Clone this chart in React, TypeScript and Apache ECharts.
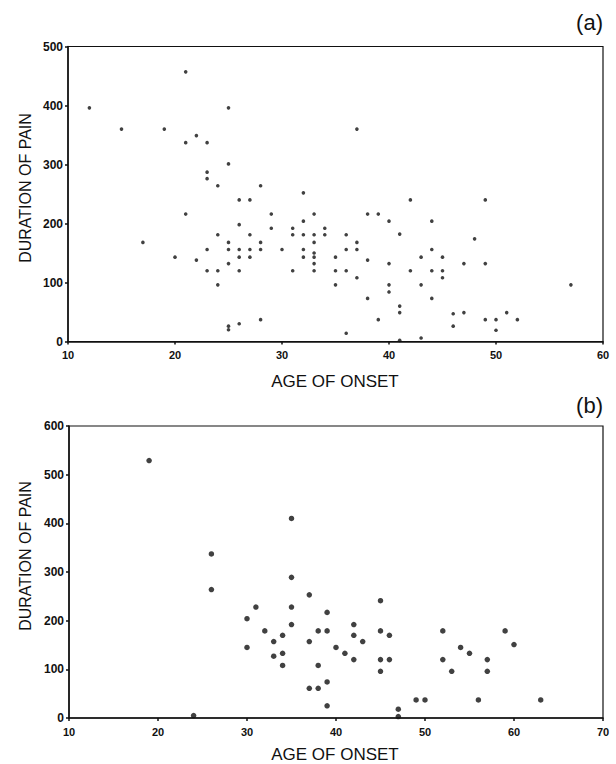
import React, { useEffect, useRef } from "react";
import * as echarts from "echarts";

// Panel (a): age of onset vs duration of pain
const agesA = [
  12, 21, 25, 15, 19, 22, 21, 23, 25, 23, 23, 24, 26, 27, 21, 26, 24, 27, 17, 25,
  23, 25, 26, 27, 20, 26, 27, 22, 25, 23, 24, 26, 24, 26, 25, 25,
  28, 29, 29, 28, 28, 30, 28, 31, 31, 31, 32, 32, 32, 32, 32, 33, 33, 33, 33, 33,
  33, 33, 34, 34, 35, 35, 35, 36, 36, 36, 36, 37, 37, 37, 37, 38, 38, 38, 39, 39,
  40, 40, 40, 40, 41, 41, 41, 41, 42, 42, 43, 43, 43,
  44, 44, 44, 44, 45, 45, 45, 46, 46, 47, 47, 48, 49, 49, 49, 50, 50, 51, 52, 57,
];
const durationsA = [
  396, 457, 396, 360, 360, 349, 337, 337, 301, 287, 276, 264, 240, 240, 216, 198, 181, 181, 168, 168,
  156, 156, 156, 156, 143, 143, 143, 138, 132, 120, 120, 120, 96, 30, 26, 20,
  264, 216, 192, 168, 156, 156, 37, 192, 181, 120, 252, 204, 181, 156, 143, 216, 181, 168, 150, 143,
  132, 120, 192, 181, 143, 120, 96, 181, 156, 120, 14, 360, 168, 156, 108, 216, 138, 73, 216, 37,
  204, 132, 96, 84, 182, 60, 49, 2, 240, 120, 143, 96, 6,
  204, 156, 120, 73, 143, 120, 108, 47, 26, 132, 49, 174, 240, 132, 37, 37, 19, 49, 37, 96,
];

// Panel (b)
const agesB = [
  19, 26, 26, 24, 30, 30, 31, 32, 33, 33, 34, 34, 34, 35, 35, 35, 35, 37, 37, 37,
  38, 38, 38, 39, 39, 39, 39, 40, 41, 42, 42, 42, 43, 45, 45, 45, 45, 46, 46, 47,
  47, 49, 50, 52, 52, 53, 54, 55, 56, 57, 57, 59, 60, 63,
];
const durationsB = [
  529, 337, 264, 5, 204, 145, 228, 179, 157, 127, 170, 133, 108, 410, 289, 228, 192, 253, 157, 61,
  179, 108, 61, 217, 179, 74, 25, 145, 133, 192, 170, 120, 157, 241, 179, 120, 96, 170, 120, 18,
  3, 37, 37, 179, 120, 96, 145, 133, 37, 120, 96, 179, 151, 37,
];

const xTicksA = [10, 20, 30, 40, 50, 60];
const yTicksA = [0, 100, 200, 300, 400, 500];
const xTicksB = [10, 20, 30, 40, 50, 60, 70];
const yTicksB = [0, 100, 200, 300, 400, 500, 600];

const FONT = "'Liberation Sans', Arial, sans-serif";
const INK = "#111";

export default function App() {
  const ref = useRef<HTMLDivElement>(null);

  useEffect(() => {
    if (!ref.current) return;
    const chart = echarts.init(ref.current, null, { renderer: "svg" });

    const xAxisBase = (ticks: number[], gridIndex: number) => ({
      type: "value",
      gridIndex,
      min: ticks[0],
      max: ticks[ticks.length - 1],
      interval: ticks[1] - ticks[0],
      splitLine: { show: false },
      axisLine: { lineStyle: { color: INK, width: 1.5 } },
      axisTick: { show: true, length: 3, lineStyle: { color: INK, width: 1.5 } },
      axisLabel: { color: INK, fontFamily: FONT, fontWeight: "bold", fontSize: 11, margin: 8 },
    });
    const yAxisBase = (ticks: number[], gridIndex: number) => ({
      type: "value",
      gridIndex,
      min: ticks[0],
      max: ticks[ticks.length - 1],
      interval: ticks[1] - ticks[0],
      splitLine: { show: false },
      axisLine: { show: true, lineStyle: { color: INK, width: 1.5 } },
      axisTick: { show: true, length: 3, lineStyle: { color: INK, width: 1.5 } },
      axisLabel: { color: INK, fontFamily: FONT, fontWeight: "bold", fontSize: 12, margin: 5 },
    });

    const titleStyle = (text: string, size: number) => ({
      text,
      fill: INK,
      font: `${size}px ${FONT}`,
      align: "center",
      verticalAlign: "middle",
    });

    chart.setOption({
      animation: false,
      backgroundColor: "#fff",
      grid: [
        { left: 68, top: 46.5, width: 535, height: 295, show: true, borderColor: INK, borderWidth: 1.2 },
        { left: 69, top: 426, width: 534, height: 292, show: true, borderColor: INK, borderWidth: 1.2 },
      ],
      xAxis: [xAxisBase(xTicksA, 0), xAxisBase(xTicksB, 1)],
      yAxis: [yAxisBase(yTicksA, 0), yAxisBase(yTicksB, 1)],
      series: [
        {
          type: "scatter",
          xAxisIndex: 0,
          yAxisIndex: 0,
          symbol: "circle",
          symbolSize: 3.6,
          itemStyle: { color: INK },
          data: agesA.map((a, i) => [a, durationsA[i]]),
        },
        {
          type: "scatter",
          xAxisIndex: 1,
          yAxisIndex: 1,
          symbol: "circle",
          symbolSize: 5.5,
          itemStyle: { color: INK },
          data: agesB.map((a, i) => [a, durationsB[i]]),
        },
      ],
      graphic: [
        { type: "text", x: 25, y: 188, rotation: Math.PI / 2, style: titleStyle("DURATION OF PAIN", 16) },
        { type: "text", x: 25, y: 556, rotation: Math.PI / 2, style: titleStyle("DURATION OF PAIN", 16) },
        { type: "text", x: 335, y: 381, style: titleStyle("AGE OF ONSET", 17) },
        { type: "text", x: 335, y: 754, style: titleStyle("AGE OF ONSET", 17) },
        {
          type: "text", x: 603, y: 22,
          style: { text: "(a)", fill: INK, font: `22px ${FONT}`, align: "right", verticalAlign: "middle" },
        },
        {
          type: "text", x: 603, y: 405,
          style: { text: "(b)", fill: INK, font: `22px ${FONT}`, align: "right", verticalAlign: "middle" },
        },
      ],
    });

    return () => chart.dispose();
  }, []);

  return (
    <div
      ref={ref}
      style={{ position: "fixed", left: 0, top: 0, width: 616, height: 764, background: "#fff" }}
    />
  );
}
